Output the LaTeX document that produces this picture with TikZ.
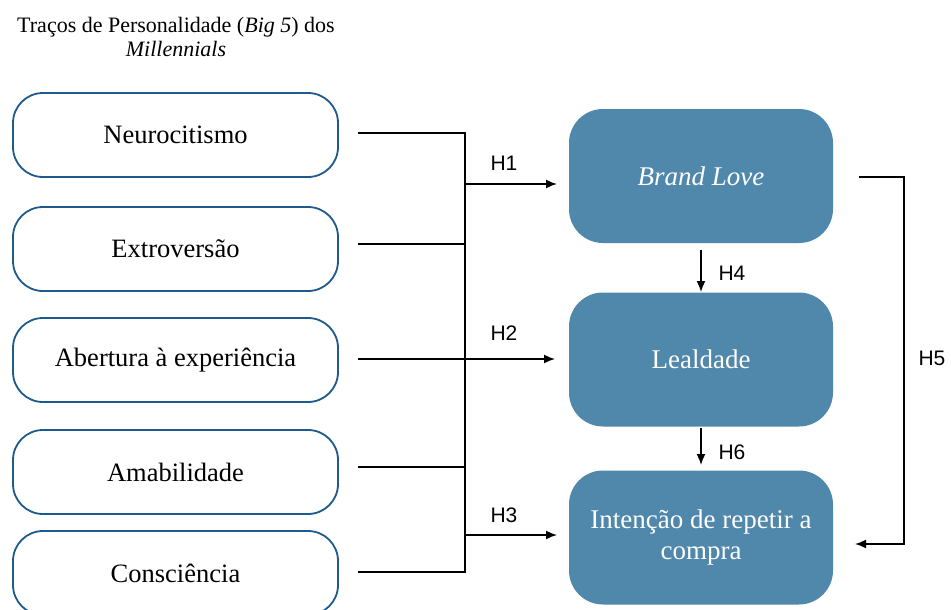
\documentclass[tikz,border=0pt]{standalone}
\usepackage{fontspec}
\setmainfont{Liberation Serif}
\newfontfamily\hfont{Liberation Sans}
\usetikzlibrary{arrows.meta}
\definecolor{bordblue}{HTML}{1F5A8C}
\definecolor{fillblue}{HTML}{5088AC}
\tikzset{
  leftbox/.style={draw=bordblue, line width=1.8pt, rounded corners=30pt, fill=white,
    minimum width=325pt, minimum height=84pt, inner sep=0pt, align=center,
    font=\fontsize{26.5}{30}\selectfont},
  rightbox/.style={fill=fillblue, draw=none, rounded corners=34pt,
    minimum width=264pt, minimum height=134pt, inner sep=0pt, align=center,
    text=white, font=\fontsize{27}{31}\selectfont},
  conn/.style={line width=1.6pt, black},
  arr/.style={conn, -{Latex[length=11pt,width=9pt]}},
  hlab/.style={font=\hfont\fontsize{21}{24}\selectfont, inner sep=0pt},
}
\begin{document}
\begin{tikzpicture}[x=1pt,y=-1pt]
\useasboundingbox (0,0) rectangle (951,610);
% title
\node[align=center, font=\fontsize{22}{24}\selectfont] (title) at (176,37)
  {Traços de Personalidade (\textit{Big 5}) dos\\\textit{Millennials}};
% left boxes
\node[leftbox] (n) at (175.5,135) {Neurocitismo};
\node[leftbox] (e) at (175.5,249) {Extroversão};
\node[leftbox] (a) at (175.5,360) {Abertura à experiência};
\node[leftbox] (am) at (175.5,472) {Amabilidade};
\node[leftbox] (c) at (175.5,573) {Consciência};
% right boxes
\node[rightbox] (bl) at (701,176) {\textit{Brand Love}};
\node[rightbox] (le) at (701,359.5) {Lealdade};
\node[rightbox, font=\fontsize{27}{31}\selectfont] (ir) at (701,537.5) {Intenção de repetir a\\compra};
% coordinates
\coordinate (nE) at (358,133);
\coordinate (eE) at (358,244);
\coordinate (aE) at (358,359);
\coordinate (amE) at (358,467);
\coordinate (cE) at (358,572);
\coordinate (bT) at (465,133);
\coordinate (bB) at (465,572);
\coordinate (b1) at (465,184);
\coordinate (b3) at (465,535);
\coordinate (t1) at (557,184);
\coordinate (t2) at (555,359);
\coordinate (t3) at (557,535);
% left connectors
\draw[conn] (nE) -- (bT) -- (bB) -- (cE);
\draw[conn] (eE) -- (465,244);
\draw[conn] (amE) -- (465,467);
\draw[arr] (b1) -- (t1);
\draw[arr] (aE) -- (t2);
\draw[arr] (b3) -- (t3);
\node[hlab] (h1) at (504,163) {H1};
\node[hlab] (h2) at (504,333) {H2};
\node[hlab] (h3) at (504,515) {H3};
% vertical
\coordinate (h4s) at (701,250);
\coordinate (h4e) at (701,292);
\coordinate (h6s) at (701,428);
\coordinate (h6e) at (701,465);
\draw[arr] (h4s) -- (h4e);
\draw[arr] (h6s) -- (h6e);
\node[hlab] (h4) at (732,273) {H4};
\node[hlab] (h6) at (732,452) {H6};
% H5
\coordinate (h5s) at (859,177);
\coordinate (h5r) at (904,177);
\coordinate (h5b) at (904,544);
\coordinate (h5e) at (855,544);
\draw[arr] (h5s) -- (h5r) -- (h5b) -- (h5e);
\node[hlab] (h5) at (932,358) {H5};
\end{tikzpicture}
\end{document}
